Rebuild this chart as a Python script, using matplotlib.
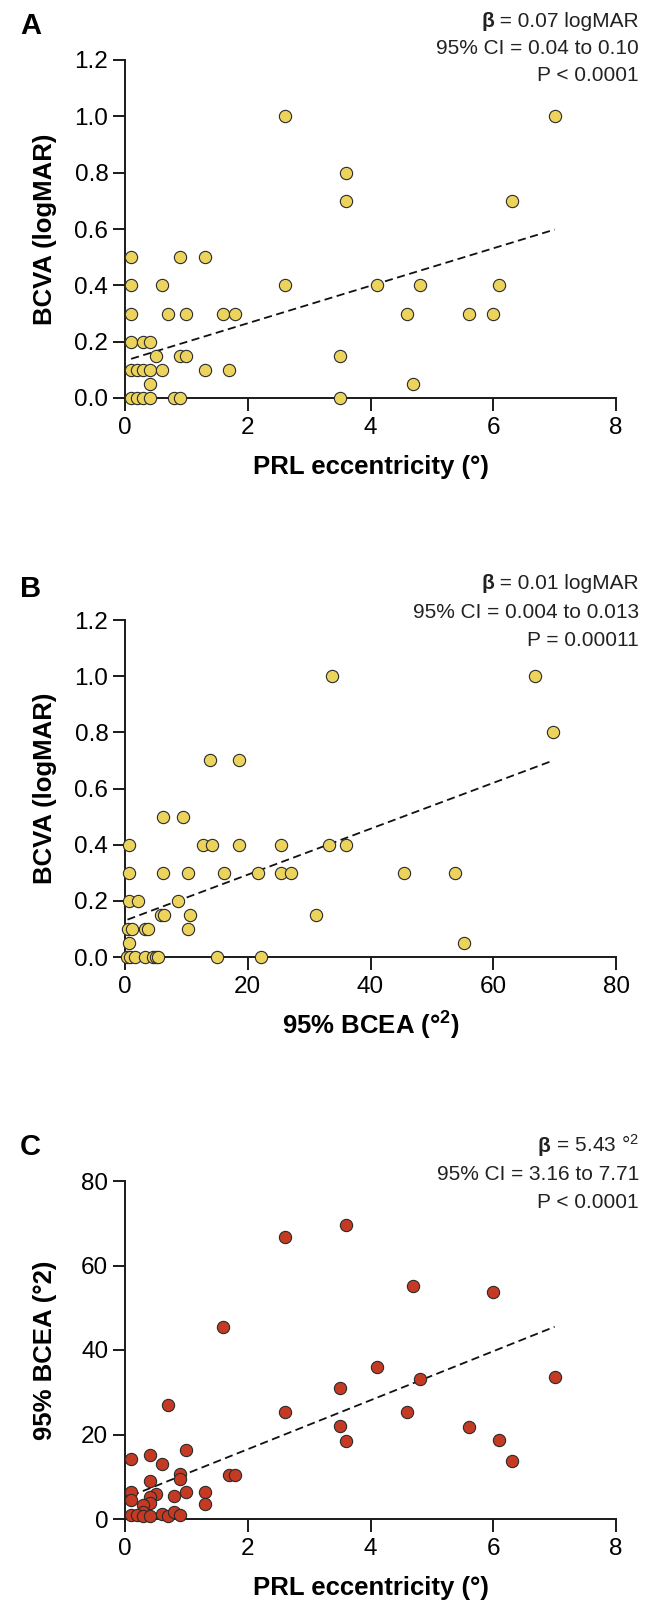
import matplotlib
matplotlib.use('Agg')
import matplotlib.pyplot as plt

plt.rcParams['font.family'] = ['Liberation Sans', 'DejaVu Sans']
plt.rcParams['mathtext.fontset'] = 'custom'
plt.rcParams['mathtext.rm'] = 'Liberation Sans'
plt.rcParams['mathtext.bf'] = 'Liberation Sans:bold'
plt.rcParams['mathtext.it'] = 'Liberation Sans:italic'

# ---------------- data ----------------
a_ecc = [0.1, 0.9, 1.3,
         2.6, 7.0,
         3.6,
         3.6, 6.3,
         0.1, 0.6, 2.6, 4.1, 4.8, 6.1,
         0.1, 0.7, 1.0, 1.6, 1.8, 4.6, 5.6, 6.0,
         0.1, 0.3, 0.4,
         0.5, 0.9, 1.0, 3.5,
         0.1, 0.2, 0.3, 0.4, 0.6, 1.3, 1.7,
         0.4, 4.7,
         0.1, 0.2, 0.3, 0.4, 0.8, 0.9, 3.5]
a_va = [0.5, 0.5, 0.5,
        1.0, 1.0,
        0.8,
        0.7, 0.7,
        0.4, 0.4, 0.4, 0.4, 0.4, 0.4,
        0.3, 0.3, 0.3, 0.3, 0.3, 0.3, 0.3, 0.3,
        0.2, 0.2, 0.2,
        0.15, 0.15, 0.15, 0.15,
        0.1, 0.1, 0.1, 0.1, 0.1, 0.1, 0.1,
        0.05, 0.05,
        0.0, 0.0, 0.0, 0.0, 0.0, 0.0, 0.0]

b_bcea = [33.8, 66.8,
          69.8,
          13.8, 18.5,
          6.2, 9.5,
          0.7, 12.7, 14.2, 18.5, 25.4, 33.2, 36.0,
          0.6, 6.2, 10.2, 16.2, 21.6, 25.4, 27.0, 45.5, 53.7,
          0.6, 2.1, 8.6,
          5.8, 6.3, 10.6, 31.1,
          0.5, 1.2, 3.2, 3.8, 10.2,
          0.6, 55.2,
          0.4, 0.8, 1.6, 3.2, 4.5, 5.0, 5.3, 15.0, 22.1]
b_va = [1.0, 1.0,
        0.8,
        0.7, 0.7,
        0.5, 0.5,
        0.4, 0.4, 0.4, 0.4, 0.4, 0.4, 0.4,
        0.3, 0.3, 0.3, 0.3, 0.3, 0.3, 0.3, 0.3, 0.3,
        0.2, 0.2, 0.2,
        0.15, 0.15, 0.15, 0.15,
        0.1, 0.1, 0.1, 0.1, 0.1,
        0.05, 0.05,
        0.0, 0.0, 0.0, 0.0, 0.0, 0.0, 0.0, 0.0, 0.0]

c_ecc = [1.6, 2.6, 3.6, 4.7, 6.0,
         4.1, 3.5, 2.6, 3.5, 3.6,
         0.7, 0.1, 0.4, 0.6, 1.0, 0.9, 0.9, 0.4, 1.7, 1.8,
         0.1, 0.1, 0.5, 0.4, 0.4, 0.3, 0.3, 0.8, 1.0, 1.3, 1.3,
         0.1, 0.2, 0.3, 0.4, 0.6, 0.7, 0.8, 0.9,
         4.8, 7.0, 4.6, 5.6, 6.1, 6.3]
c_bcea = [45.4, 66.7, 69.7, 55.1, 53.7,
          36.0, 31.1, 25.4, 22.1, 18.5,
          27.1, 14.3, 15.1, 12.9, 16.3, 10.7, 9.5, 8.9, 10.3, 10.3,
          6.4, 4.4, 5.9, 5.1, 3.8, 3.2, 1.7, 5.4, 6.4, 6.4, 3.6,
          0.9, 0.9, 0.7, 0.7, 1.1, 0.7, 1.7, 0.9,
          33.2, 33.7, 25.4, 21.7, 18.7, 13.8]

# regression lines (end points)
a_fit_x = [0.1, 7.0]
a_fit_y = [0.139, 0.598]
b_fit_x = [0.4, 69.8]
b_fit_y = [0.133, 0.700]
c_fit_x = [0.1, 7.0]
c_fit_y = [5.5, 45.5]

a_ticks_x = [0, 2, 4, 6, 8]
b_ticks_x = [0, 20, 40, 60, 80]
va_ticks = [0.0, 0.2, 0.4, 0.6, 0.8, 1.0, 1.2]
va_ticklabels = ['0.0', '0.2', '0.4', '0.6', '0.8', '1.0', '1.2']
bcea_ticks = [0, 20, 40, 60, 80]

YELLOW = '#EBD35C'
RED = '#C43A22'
EDGE = '#2b2b2b'

# ---------------- layout ----------------
W, H = 650, 1611
fig = plt.figure(figsize=(W / 100, H / 100), dpi=100)


def fx(px):
    return px / W


def fy(py):
    return 1 - py / H


AX_L, AX_R = 125, 616
TICK_FS = 17.5
LABEL_FS = 18.5
ANN_FS = 15


def make_axes(top, bottom):
    ax = fig.add_axes([fx(AX_L), fy(bottom), (AX_R - AX_L) / W, (bottom - top) / H])
    for s in ['top', 'right']:
        ax.spines[s].set_visible(False)
    for s in ['left', 'bottom']:
        ax.spines[s].set_linewidth(1.4)
        ax.spines[s].set_color('#1a1a1a')
    ax.tick_params(direction='out', length=9, width=1.4, color='#1a1a1a',
                   labelsize=TICK_FS, pad=3)
    ax.tick_params(axis='x', pad=5)
    return ax


def panel(ax, x, y, color, fx_, fy_, xlim, ylim, xticks, yticks, yticklabels,
          xlabel, ylabel, letter, ann_lines, top_px, ann_y):
    ax.plot(fx_, fy_, ls=(0, (4.5, 2.5)), color='#111111', lw=1.3, zorder=2)
    ax.scatter(x, y, s=78, c=color, edgecolors=EDGE, linewidths=0.8,
               zorder=3, clip_on=False)
    ax.set_xlim(*xlim)
    ax.set_ylim(*ylim)
    ax.set_xticks(xticks)
    ax.set_yticks(yticks)
    ax.set_yticklabels(yticklabels)
    ax.text(0.5, -0.205, xlabel, transform=ax.transAxes, ha='center', va='center',
            fontsize=LABEL_FS, fontweight='bold')
    ax.text(-0.163, 0.5, ylabel, transform=ax.transAxes, ha='center', va='center',
            rotation=90, fontsize=LABEL_FS, fontweight='bold')
    fig.text(fx(20), fy(top_px), letter, ha='left', va='top', fontsize=21,
             fontweight='bold')
    # annotation (right aligned)
    beta_rest, ci, p = ann_lines
    t0 = fig.text(fx(639), fy(ann_y[0]), beta_rest, ha='right', va='baseline',
                  fontsize=ANN_FS, color='#222222')
    ax.annotate('\u03b2', xy=(0, 0), xycoords=t0, xytext=(0, 0),
                textcoords='offset points', ha='right', va='bottom',
                fontsize=ANN_FS, fontweight='bold', color='#222222',
                annotation_clip=False)
    fig.text(fx(639), fy(ann_y[1]), ci, ha='right', va='baseline',
             fontsize=ANN_FS, color='#222222')
    fig.text(fx(639), fy(ann_y[2]), p, ha='right', va='baseline',
             fontsize=ANN_FS, color='#222222')


axA = make_axes(60, 398)
panel(axA, a_ecc, a_va, YELLOW, a_fit_x, a_fit_y, (0, 8), (0, 1.2),
      a_ticks_x, va_ticks, va_ticklabels,
      'PRL eccentricity (\u00b0)', 'BCVA (logMAR)', 'A',
      (' = 0.07 logMAR', '95% CI = 0.04 to 0.10', 'P < 0.0001'),
      12, (27, 54, 81))

axB = make_axes(620, 957)
panel(axB, b_bcea, b_va, YELLOW, b_fit_x, b_fit_y, (0, 80), (0, 1.2),
      b_ticks_x, va_ticks, va_ticklabels,
      '95% BCEA (\u00b0$^{\\mathbf{2}}$)', 'BCVA (logMAR)', 'B',
      (' = 0.01 logMAR', '95% CI = 0.004 to 0.013', 'P = 0.00011'),
      575, (589, 618, 646))

axC = make_axes(1181, 1519)
panel(axC, c_ecc, c_bcea, RED, c_fit_x, c_fit_y, (0, 8), (0, 80),
      a_ticks_x, bcea_ticks, [str(v) for v in bcea_ticks],
      'PRL eccentricity (\u00b0)', '95% BCEA (\u00b02)', 'C',
      (' = 5.43 \u00b0$^{2}$', '95% CI = 3.16 to 7.71', 'P < 0.0001'),
      1133, (1152, 1180, 1208))

fig.savefig('out.png', dpi=100, facecolor='white')
